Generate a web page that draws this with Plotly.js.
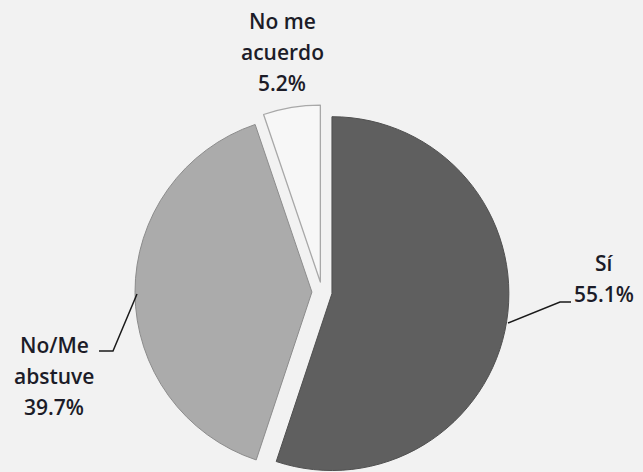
<!DOCTYPE html>
<html>
<head>
<meta charset="utf-8">
<script src="https://cdn.plot.ly/plotly-3.0.1.min.js"></script>
<style>
  html, body { margin: 0; padding: 0; width: 643px; height: 472px; overflow: hidden; background: #f2f2f2; }
  #chart { width: 643px; height: 500px; }
</style>
</head>
<body>
<div id="chart"></div>
<script>
// ---- data ----
var labels = ['Sí', 'No/Me<br>abstuve', 'No me<br>acuerdo'];
var values = [55.1, 39.7, 5.2];
var sliceColors = ['#5f5f5f', '#ababab', '#f7f7f7'];
var lineColors = ['#505050', '#8c8c8c', '#a8a8a8'];

// ---- layout helpers (pixel -> paper) ----
var W = 643, H = 500;
function px(x) { return x / W; }
function py(y) { return 1 - y / H; }

// pie geometry: center (322,292), box half-size 187
var cx = 322, cy = 292, half = 187;

var trace = {
  type: 'pie',
  labels: labels,
  values: values,
  sort: false,
  direction: 'clockwise',
  rotation: 0,
  pull: [0.057, 0.057, 0.057],
  textinfo: 'none',
  hoverinfo: 'label+percent',
  showlegend: false,
  marker: {
    colors: sliceColors,
    line: { color: lineColors, width: [1, 1, 1.3] }
  },
  domain: {
    x: [px(cx - half), px(cx + half)],
    y: [py(cy + half), py(cy - half)]
  }
};

// label anchor positions (pixel centers of first line) and line spacing
var labelPos = [
  { x: 604, y: 263 },
  { x: 54, y: 345 },
  { x: 282, y: 21 }
];
var lineStep = 31;

var annotations = [];
labels.forEach(function (lab, i) {
  var lines = lab.split('<br>');
  lines.push(values[i].toFixed(1) + '%');
  lines.forEach(function (t, j) {
    annotations.push({
      xref: 'paper', yref: 'paper',
      x: px(labelPos[i].x), y: py(labelPos[i].y + j * lineStep),
      xanchor: 'center', yanchor: 'middle',
      text: t, showarrow: false,
      font: { family: 'Open Sans, sans-serif', size: 21, color: '#1c1c28', weight: 600 }
    });
  });
});

// leader lines (elbow connectors from labels to slices)
function pathOf(pts) {
  return pts.map(function (p, k) {
    return (k === 0 ? 'M' : 'L') + px(p[0]) + ',' + py(p[1]);
  }).join(' ');
}
var shapes = [
  { type: 'path', xref: 'paper', yref: 'paper',
    path: pathOf([[508, 323], [560, 302], [571, 302]]),
    line: { color: '#1a1a1a', width: 1.5 } },
  { type: 'path', xref: 'paper', yref: 'paper',
    path: pathOf([[99, 351], [113, 351], [137, 294]]),
    line: { color: '#1a1a1a', width: 1.5 } }
];

var layout = {
  width: W, height: H,
  margin: { l: 0, r: 0, t: 0, b: 0 },
  paper_bgcolor: '#f2f2f2',
  plot_bgcolor: '#f2f2f2',
  showlegend: false,
  annotations: annotations,
  shapes: shapes
};

Plotly.newPlot('chart', [trace], layout, { displayModeBar: false, staticPlot: true });
</script>
</body>
</html>
